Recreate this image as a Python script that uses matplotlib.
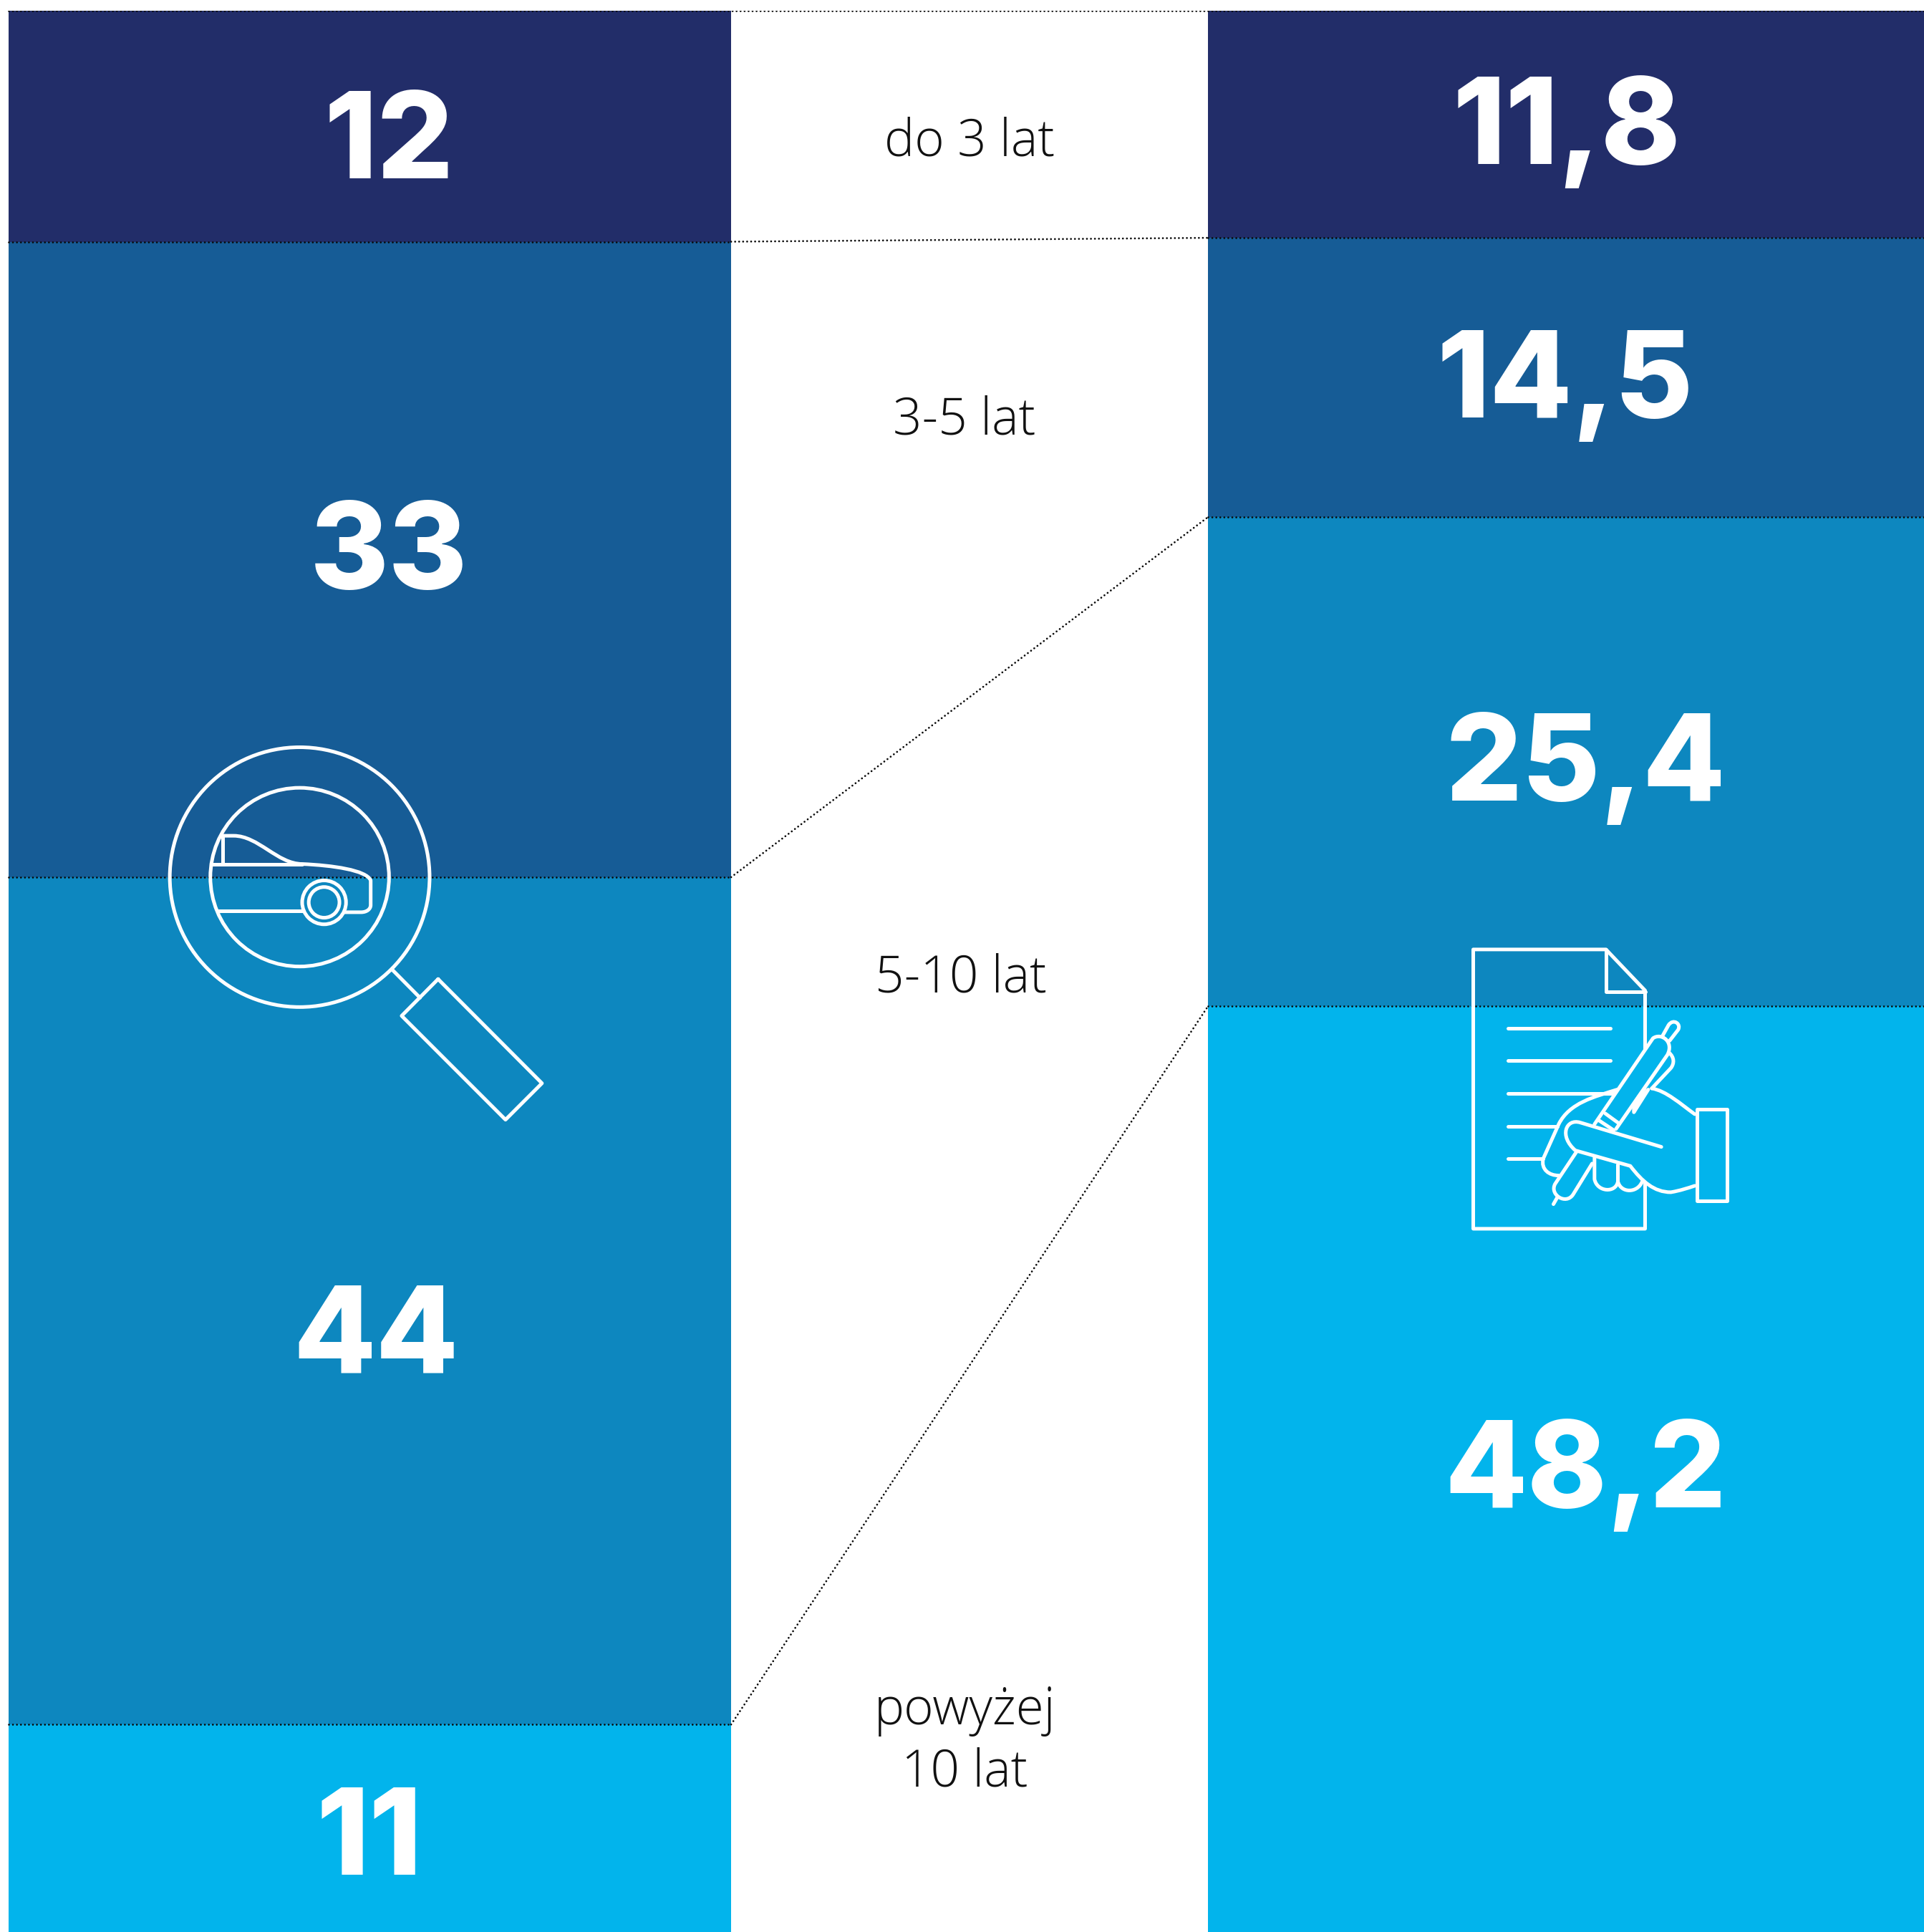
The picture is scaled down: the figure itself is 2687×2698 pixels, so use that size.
import matplotlib
matplotlib.use('Agg')
import matplotlib.pyplot as plt
from matplotlib.path import Path
import matplotlib.patches as patches

# Data
periods = ['do 3 lat', '3-5 lat', '5-10 lat', 'powyżej\n10 lat']
left_values = [12, 33, 44, 11]
right_values = [11.8, 14.5, 25.4, 48.2]
left_labels = ['12', '33', '44', '11']
right_labels = ['11,8', '14,5', '25,4', '48,2']
colors = ['#222d69', '#165c96', '#0d87bf', '#02b4ec']

W, H = 2687, 2698
TOP = 15
fig = plt.figure(figsize=((W + 0.2) / 100, (H + 0.2) / 100), dpi=100, facecolor='white')

# bars live on a 0-100 scale, x stays in pixels (100 falls just under the canvas)
SPAN = 2689
ax = fig.add_axes([0, (H - TOP - SPAN) / H, 1, SPAN / H])
ax.set_xlim(0, W)
ax.set_ylim(100, 0)
ax.axis('off')

# overlay in pixel coordinates for texts and icons
ov = fig.add_axes([0, 0, 1, 1])
ov.set_xlim(0, W)
ov.set_ylim(H, 0)
ov.axis('off')
ov.patch.set_alpha(0)

left_x, left_w = 12, 1009
right_x, right_w = 1687, 1000
dots = dict(color='#0a0a0a', lw=2.0, ls=(0, (0.01, 2.0)), dash_capstyle='round', zorder=3)

b_left = 0
b_right = 0
ax.plot([left_x, right_x + right_w], [0, 0], **dots)
for i in range(4):
    ax.bar(left_x, left_values[i], bottom=b_left, width=left_w, align='edge', color=colors[i], lw=0)
    ax.bar(right_x, right_values[i], bottom=b_right, width=right_w, align='edge', color=colors[i], lw=0)
    b_left += left_values[i]
    b_right += right_values[i]
    if i < 3:
        ax.plot([left_x, left_x + left_w], [b_left, b_left], **dots)
        ax.plot([left_x + left_w, right_x], [b_left, b_right], **dots)
        ax.plot([right_x, right_x + right_w], [b_right, b_right], **dots)

# Value labels
num_font = dict(family='Inter', fontweight=800, fontsize=121, color='white', ha='center', va='baseline')
left_pos = [(543, 249), (543, 822), (525, 1916), (516, 2618)]
right_pos = [(2188, 229), (2186, 583), (2214, 1118), (2214, 2105)]
for txt, (x, y) in zip(left_labels, left_pos):
    ov.text(x, y, txt, **num_font)
for txt, (x, y) in zip(right_labels, right_pos):
    ov.text(x, y, txt, **num_font)

# Period labels
lab_font = dict(family='Open Sans', fontweight='light', fontsize=51, color='#111111', ha='center', va='baseline')
lab_pos = [(1354, 217), (1347, 606), (1342, 1385)]
for txt, (x, y) in zip(periods[:3], lab_pos):
    ov.text(x, y, txt, **lab_font)
line1, line2 = periods[3].split('\n')
ov.text(1347, 2408, line1, **lab_font)
ov.text(1347, 2494, line2, **lab_font)


# --- Icons ---
icon = dict(fill=False, ec='white', lw=3.6, capstyle='round', joinstyle='round', zorder=4)


def curve(points, codes, ox, oy, k):
    verts = [(ox + x / k, oy + y / k) for x, y in points]
    ov.add_patch(patches.PathPatch(Path(verts, codes), **icon))


M, L, C = Path.MOVETO, Path.LINETO, Path.CURVE4

# magnifier, traced in zoom coordinates
ox, oy, k = 200, 1000, 2.613
ov.add_patch(patches.Circle((ox + 571 / k, oy + 588 / k), 474 / k, **icon))
ov.add_patch(patches.Circle((ox + 571 / k, oy + 588 / k), 326 / k, **icon))
ov.add_patch(patches.Circle((ox + 660 / k, oy + 680 / k), 80 / k, **icon))
ov.add_patch(patches.Circle((ox + 660 / k, oy + 680 / k), 56 / k, **icon))
curve([(908, 925), (1010, 1028)], [M, L], ox, oy, k)
curve([(1076, 960), (1455, 1340), (1322, 1473), (943, 1094), (1076, 960)], [M, L, L, L, L], ox, oy, k)
curve([(290, 437), (330, 437), (420, 437), (490, 540), (580, 540), (690, 545), (815, 562), (830, 600),
       (830, 690), (830, 705), (815, 716), (795, 716), (735, 716)],
      [M, L, C, C, C, C, C, C, L, C, C, C, L], ox, oy, k)
curve([(250, 540), (580, 540)], [M, L], ox, oy, k)
curve([(290, 437), (290, 540)], [M, L], ox, oy, k)
curve([(275, 712), (585, 712)], [M, L], ox, oy, k)

# document and hand
ox, oy, k = 2000, 1300, 3
curve([(892, 495), (892, 250), (728, 78), (172, 78), (172, 1248), (892, 1248), (892, 1060)],
      [M, L, L, L, L, L, L], ox, oy, k)
curve([(728, 78), (728, 255), (892, 255)], [M, L, L], ox, oy, k)
for y, x_end in [(407, 746), (544, 746), (681, 760), (818, 525), (955, 465)]:
    curve([(318, y), (x_end, y)], [M, L], ox, oy, k)
ov.add_patch(patches.Rectangle((ox + 1108 / k, oy + 748 / k), 127 / k, 382 / k, **icon))
# back of the hand
curve([(775, 665), (680, 695), (575, 720), (530, 810), (465, 955), (455, 1000), (490, 1025), (530, 1025)],
      [M, C, C, C, L, C, C, C], ox, oy, k)
# thumb and palm
curve([(960, 905), (620, 803), (560, 785), (530, 860), (600, 920), (830, 985), (880, 1050), (930, 1095),
       (1000, 1095), (1040, 1088), (1070, 1078), (1100, 1068)],
      [M, L, C, C, C, L, C, C, C, C, C, C], ox, oy, k)
curve([(920, 660), (980, 670), (1040, 725), (1100, 768)], [M, C, C, C], ox, oy, k)
# fingers
curve([(680, 950), (680, 1040), (690, 1095), (770, 1100), (778, 1050), (778, 980)], [M, L, C, C, C, L], ox, oy, k)
curve([(778, 1050), (790, 1100), (860, 1100), (880, 1050)], [M, C, C, C], ox, oy, k)
# pen
curve([(680, 810), (925, 450), (960, 425), (1015, 465), (985, 520), (770, 830)], [M, L, C, C, C, L], ox, oy, k)
curve([(605, 925), (515, 1060), (490, 1105), (560, 1150), (590, 1105), (670, 975)], [M, L, C, C, C, L], ox, oy, k)
curve([(525, 1115), (508, 1145)], [M, L], ox, oy, k)
curve([(965, 440), (990, 395), (1010, 365), (1045, 390), (1030, 415), (995, 460)], [M, L, C, C, C, L], ox, oy, k)
curve([(725, 765), (780, 805)], [M, L], ox, oy, k)
curve([(700, 795), (760, 835)], [M, L], ox, oy, k)
curve([(992, 510), (1015, 530), (1015, 555), (1000, 575), (920, 660)], [M, C, C, C, L], ox, oy, k)
curve([(890, 660), (845, 735), (845, 760), (845, 760), (870, 720), (905, 665)], [M, L, L, C, C, C], ox, oy, k)

fig.savefig('out.png', dpi=100, facecolor='white')
